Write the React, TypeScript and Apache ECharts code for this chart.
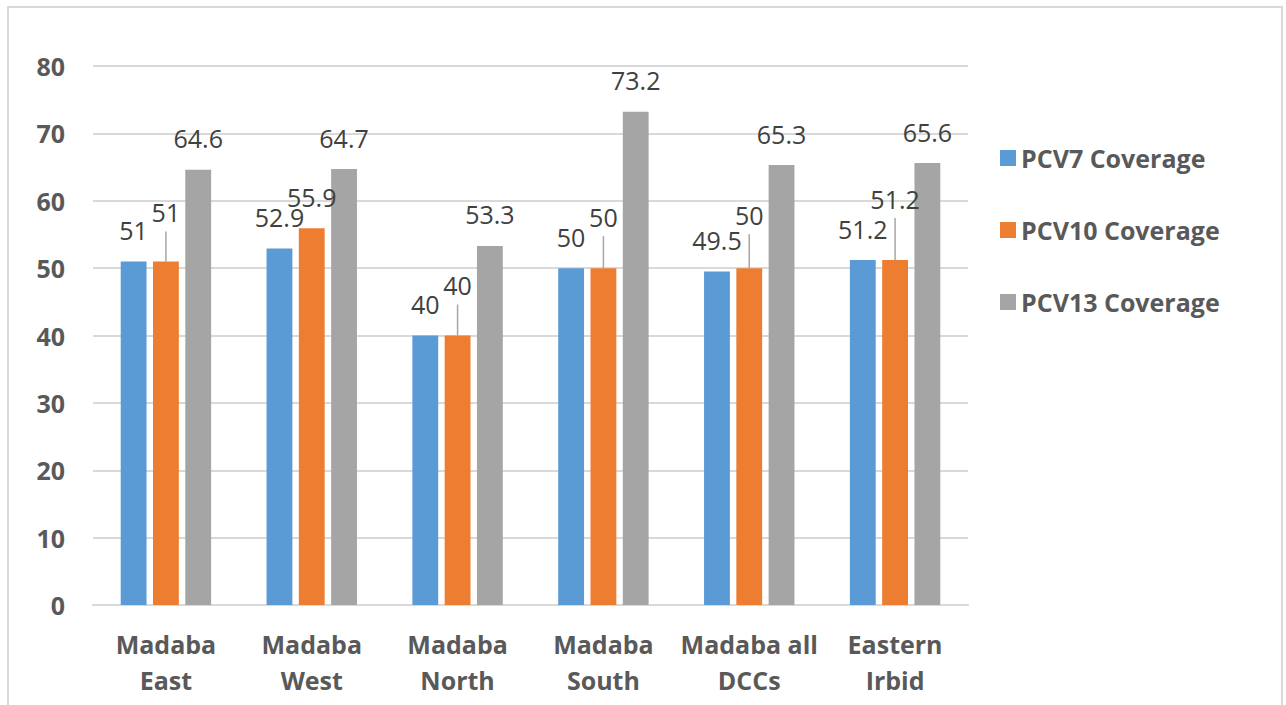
import React, { useEffect, useRef } from "react";
import * as echarts from "echarts";

const categories = [
  "Madaba\nEast",
  "Madaba\nWest",
  "Madaba\nNorth",
  "Madaba\nSouth",
  "Madaba all\nDCCs",
  "Eastern\nIrbid",
];
const pcv7 = [51, 52.9, 40, 50, 49.5, 51.2];
const pcv10 = [51, 55.9, 40, 50, 50, 51.2];
const pcv13 = [64.6, 64.7, 53.3, 73.2, 65.3, 65.6];
const yTicks = [0, 10, 20, 30, 40, 50, 60, 70, 80];
// how far (px) the PCV10 labels were dragged up, with a leader line
const pcv10LabelLift = [18, 0, 19, 20, 22, 30];

const FONT = "'Open Sans', 'Noto Sans', sans-serif";

export default function App() {
  const ref = useRef<HTMLDivElement>(null);
  useEffect(() => {
    document.body.style.margin = "0";
    const chart = echarts.init(ref.current!, null, { renderer: "svg" });
    const labelBase = {
      show: true,
      position: "top",
      distance: 19,
      color: "#404040",
      fontFamily: FONT,
      fontSize: 25,
      fontWeight: "normal",
    };
    chart.setOption({
      animation: false,
      backgroundColor: "#ffffff",
      textStyle: { fontFamily: FONT },
      graphic: [
        {
          type: "rect",
          shape: { x: 8, y: 7, width: 1274, height: 760 },
          style: { fill: "none", stroke: "#d9d9d9", lineWidth: 2 },
          silent: true,
          z: -10,
        },
      ],
      grid: { left: 93, right: 318, top: 66, bottom: 100 },
      legend: {
        orient: "vertical",
        left: 995,
        top: 138,
        itemWidth: 16,
        itemHeight: 16,
        itemGap: 42,
        icon: "rect",
        data: ["PCV7 Coverage", "PCV10 Coverage", "PCV13 Coverage"],
        textStyle: {
          fontFamily: FONT,
          fontSize: 25,
          fontWeight: "bold",
          color: "#595959",
          lineHeight: 30,
        },
      },
      xAxis: {
        type: "category",
        data: categories,
        axisLine: { show: true, lineStyle: { color: "#d9d9d9", width: 2 } },
        axisTick: { show: false },
        axisLabel: {
          margin: 21,
          fontFamily: FONT,
          fontSize: 25,
          fontWeight: "bold",
          color: "#595959",
          lineHeight: 36,
          interval: 0,
        },
      },
      yAxis: {
        type: "value",
        min: yTicks[0],
        max: yTicks[yTicks.length - 1],
        interval: 10,
        axisLine: { show: false },
        axisTick: { show: false },
        splitLine: { lineStyle: { color: "#d9d9d9", width: 2 } },
        axisLabel: {
          margin: 28,
          fontFamily: FONT,
          fontSize: 25,
          fontWeight: "bold",
          color: "#595959",
        },
      },
      series: [
        {
          name: "PCV7 Coverage",
          type: "bar",
          data: pcv7,
          itemStyle: { color: "#5B9BD5" },
          barGap: "25%",
          barCategoryGap: "38%",
          label: labelBase,
        },
        {
          name: "PCV10 Coverage",
          type: "bar",
          data: pcv10.map((v, i) => ({
            value: v,
            label: { offset: [0, -pcv10LabelLift[i]] },
          })),
          itemStyle: { color: "#ED7D31" },
          barGap: "25%",
          barCategoryGap: "38%",
          label: labelBase,
        },
        {
          name: "PCV13 Coverage",
          type: "bar",
          data: pcv13,
          itemStyle: { color: "#A5A5A5" },
          barGap: "25%",
          barCategoryGap: "38%",
          label: labelBase,
        },
        {
          name: "leader",
          type: "custom",
          silent: true,
          z: 5,
          encode: { x: 0, y: 1 },
          data: pcv10
            .map((v, i) => [i, v, pcv10LabelLift[i]])
            .filter((d) => d[2] > 0),
          renderItem: (params: any, api: any) => {
            const p = api.coord([api.value(0), api.value(1)]);
            const lift = api.value(2);
            return {
              type: "line",
              shape: { x1: p[0], y1: p[1], x2: p[0], y2: p[1] - 12 - lift },
              style: { stroke: "#a6a6a6", lineWidth: 1.5 },
            };
          },
        },
      ],
    });
    return () => chart.dispose();
  }, []);
  return <div ref={ref} style={{ width: 1286, height: 705 }} />;
}
